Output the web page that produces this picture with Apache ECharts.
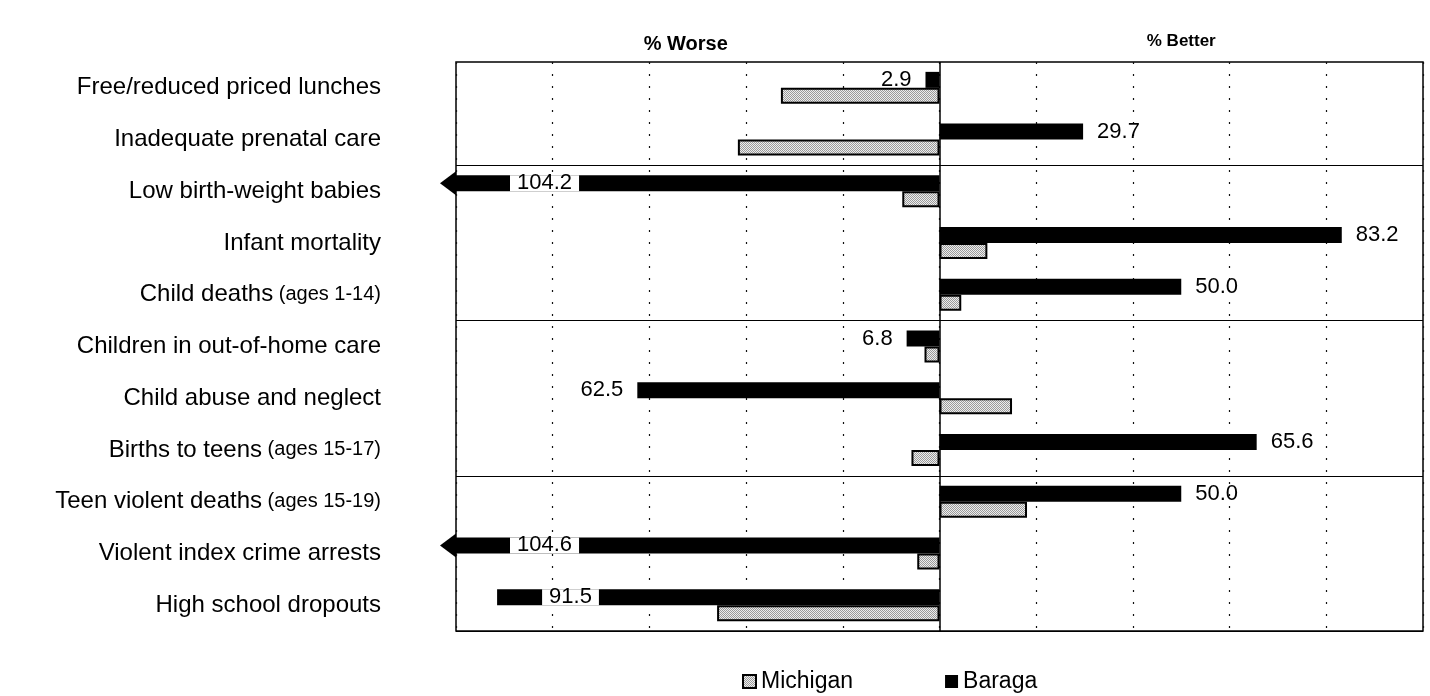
<!DOCTYPE html>
<html>
<head>
<meta charset="utf-8">
<title>Baraga vs Michigan</title>
<script src="https://cdn.jsdelivr.net/npm/echarts@6/dist/echarts.min.js"></script>
<style>
  html, body { margin: 0; padding: 0; background: #fff; }
  #chart { width: 1430px; height: 696px; }
</style>
</head>
<body>
<div id="chart"></div>
<script>
// Indicators, top to bottom
const categories = [
  'Free/reduced priced lunches',
  'Inadequate prenatal care',
  'Low birth-weight babies',
  'Infant mortality',
  'Child deaths (ages 1-14)',
  'Children in out-of-home care',
  'Child abuse and neglect',
  'Births to teens (ages 15-17)',
  'Teen violent deaths (ages 15-19)',
  'Violent index crime arrests',
  'High school dropouts'
];

// Percent change: negative = worse, positive = better
const baraga   = [-2.9, 29.7, -104.2, 83.2, 50.0, -6.8, -62.5, 65.6, 50.0, -104.6, -91.5];
const michigan = [-32.8, -41.7, -7.7, 9.9, 4.5, -3.1, 15.0, -5.8, 18.1, -4.6, -46.0];

// Indices where a new indicator group begins
const groupStarts = [2, 5, 8];

// Axis extent and header labels
const axisMin = -100;
const axisMax = 100;
const worseLabel = '% Worse';
const betterLabel = '% Better';

const FONT = '"Liberation Sans", Arial, Helvetica, sans-serif';

// Light stippled fill for the state bars
function stipple() {
  const c = document.createElement('canvas');
  c.width = 2; c.height = 2;
  const g = c.getContext('2d');
  g.fillStyle = '#ededed';
  g.fillRect(0, 0, 2, 2);
  g.fillStyle = '#9a9a9a';
  g.fillRect(0, 0, 1, 1);
  g.fillRect(1, 1, 1, 1);
  return { image: c, repeat: 'repeat' };
}

const valueLabelBase = {
  show: true,
  color: '#000',
  fontFamily: FONT,
  fontSize: 22,
  formatter: p => Math.abs(p.value).toFixed(1)
};

const insideLabel = { position: 'insideLeft', backgroundColor: '#fff', padding: [0, 7], lineHeight: 16 };

const baragaData = baraga.map(v => {
  let label;
  if (v > 0) {
    label = { position: 'right', distance: 14 };
  } else if (v <= axisMin) {
    label = Object.assign({ distance: 54 }, insideLabel);
  } else if (v < -85) {
    label = Object.assign({ distance: 45 }, insideLabel);
  } else {
    label = { position: 'left', distance: 14 };
  }
  return { value: v, label };
});

// Arrow heads for values running past the axis limit
const overflowMarks = baraga
  .map((v, i) => ({ v, i }))
  .filter(d => d.v < axisMin)
  .map(d => ({ coord: [axisMin, categories[d.i]] }));

const chart = echarts.init(document.getElementById('chart'), null, { renderer: 'canvas' });

chart.setOption({
  animation: false,
  backgroundColor: '#fff',
  textStyle: { fontFamily: FONT },
  grid: {
    left: 456, right: 7, top: 62, bottom: 65,
    show: true, borderColor: '#000', borderWidth: 1.5,
    containLabel: false
  },
  legend: {
    data: ['Michigan', 'Baraga'],
    left: 737, top: 665,
    itemWidth: 13, itemHeight: 13, itemGap: 92,
    icon: 'rect',
    textStyle: { fontFamily: FONT, fontSize: 23, color: '#000' }
  },
  xAxis: [
    {
      type: 'value', min: axisMin, max: axisMax, interval: 20,
      axisLabel: { show: false }, axisTick: { show: false }, axisLine: { show: false },
      splitLine: { show: true, lineStyle: { color: '#111', width: 1.2, type: [2, 10] } }
    },
    {
      type: 'value', position: 'top', min: axisMin, max: axisMax, interval: 50,
      axisLine: { show: false }, axisTick: { show: false }, splitLine: { show: false },
      axisLabel: {
        margin: 8, color: '#000',
        formatter: v => (v === -50 ? '{w|' + worseLabel + '}' : v === 50 ? '{b|' + betterLabel + '}' : ''),
        rich: {
          w: { fontFamily: FONT, fontSize: 20, fontWeight: 'bold', color: '#000', padding: [0, 24, 0, 0] },
          b: { fontFamily: FONT, fontSize: 17, fontWeight: 'bold', color: '#000', padding: [0, 0, 4, 0] }
        }
      }
    }
  ],
  yAxis: {
    type: 'category', data: categories, inverse: true,
    axisLine: { show: false }, axisTick: { show: false },
    splitLine: {
      show: true,
      interval: (index) => groupStarts.indexOf(index) >= 0,
      lineStyle: { color: '#000', width: 1.2, type: 'solid' }
    },
    axisLabel: {
      interval: 0, margin: 75, color: '#000',
      formatter: (value) => {
        const k = value.indexOf(' (');
        if (k < 0) return '{a|' + value + '}';
        return '{a|' + value.slice(0, k) + '}{b| ' + value.slice(k + 1) + '}';
      },
      rich: {
        a: { fontFamily: FONT, fontSize: 24, color: '#000' },
        b: { fontFamily: FONT, fontSize: 20, color: '#000' }
      }
    }
  },
  series: [
    {
      name: 'Baraga', type: 'bar', data: baragaData,
      barWidth: 16, barGap: '0%',
      itemStyle: { color: '#000' },
      label: valueLabelBase,
      markLine: {
        silent: true, symbol: 'none', label: { show: false },
        lineStyle: { color: '#000', width: 1.5, type: 'solid' },
        data: [{ xAxis: 0 }]
      },
      markPoint: {
        silent: true,
        symbol: 'path://M0,12 L16,0 L16,24 Z',
        symbolSize: [16, 24],
        symbolOffset: [-8, 0],
        itemStyle: { color: '#000' },
        label: { show: false },
        data: overflowMarks
      }
    },
    {
      name: 'Michigan', type: 'bar', data: michigan,
      barWidth: 16, barGap: '0%',
      itemStyle: { color: stipple(), borderColor: '#000', borderWidth: 2 }
    }
  ]
});
</script>
</body>
</html>
